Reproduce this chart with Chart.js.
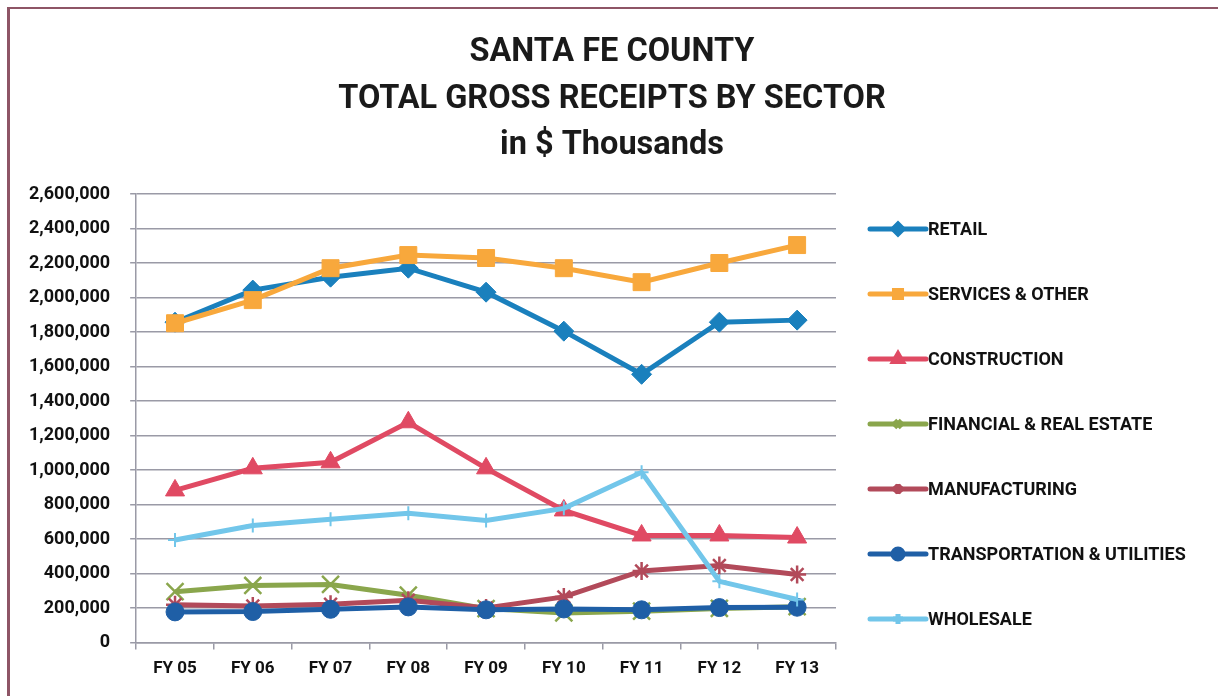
<!DOCTYPE html>
<html>
<head>
<meta charset="utf-8">
<script src="https://cdn.jsdelivr.net/npm/chart.js@4.4.0/dist/chart.umd.min.js"></script>
<style>
  html, body { margin: 0; padding: 0; background: #fff; overflow: hidden; }
  #wrap { position: relative; width: 1218px; height: 696px; overflow: hidden; }
  #frame { position: absolute; left: 7px; top: 7px; width: 1300px; height: 800px; border-left: 3px solid #8e5566; border-top: 2px solid #8e5566; pointer-events: none; }
</style>
</head>
<body>
<div id="wrap">
  <canvas id="chart" width="1218" height="696"></canvas>
  <div id="frame"></div>
</div>
<script>
const FONT = "'Roboto', 'Noto Sans', sans-serif";

const categories = ['FY 05', 'FY 06', 'FY 07', 'FY 08', 'FY 09', 'FY 10', 'FY 11', 'FY 12', 'FY 13'];
const titleLines = ['SANTA FE COUNTY', 'TOTAL GROSS RECEIPTS BY SECTOR', 'in $ Thousands'];

const retail        = [1857000, 2043000, 2118000, 2170000, 2031000, 1805000, 1555000, 1857000, 1869000];
const services      = [1851000, 1985000, 2170000, 2246000, 2229000, 2170000, 2089000, 2200000, 2304000];
const construction  = [882000, 1010000, 1045000, 1277000, 1010000, 766000, 621000, 621000, 609000];
const financial     = [295000, 331000, 337000, 275000, 197000, 172000, 182000, 198000, 208000];
const manufacturing = [220000, 212000, 222000, 245000, 200000, 265000, 415000, 447000, 395000];
const transport     = [178000, 180000, 193000, 207000, 190000, 195000, 190000, 203000, 205000];
const wholesale     = [595000, 679000, 715000, 749000, 708000, 778000, 987000, 355000, 250000];

const yMin = 0, yMax = 2600000, yStep = 200000;

function series(label, data, color, style, radius, order, extra) {
  return Object.assign({
    label, data, order,
    borderColor: color,
    backgroundColor: color,
    borderWidth: 5,
    tension: 0,
    pointStyle: style,
    pointRadius: radius,
    pointHoverRadius: radius,
    pointBackgroundColor: color,
    pointBorderColor: color,
    pointBorderWidth: 1
  }, extra || {});
}

// title centred on the whole canvas (the built-in one centres on the plot+axis box)
const pageTitle = {
  id: 'pageTitle',
  afterDraw(chart) {
    const ctx = chart.ctx;
    ctx.save();
    ctx.fillStyle = '#1a1a1a';
    ctx.font = 'bold 32.5px ' + FONT;
    ctx.textAlign = 'center';
    ctx.textBaseline = 'middle';
    titleLines.forEach((t, i) => ctx.fillText(t, 612, 53 + i * 46.5));
    ctx.restore();
  }
};

// legend drawn by hand: line + marker + bold label, to the right of the plot
const sideLegend = {
  id: 'sideLegend',
  afterDraw(chart) {
    const ctx = chart.ctx;
    const { right } = chart.chartArea;
    const x0 = right + 34, len = 56;
    ctx.save();
    chart.data.datasets.forEach((ds, i) => {
      const y = 229 + i * 65;
      ctx.strokeStyle = ds.borderColor;
      ctx.lineWidth = 5;
      ctx.lineCap = 'round';
      ctx.beginPath();
      ctx.moveTo(x0, y);
      ctx.lineTo(x0 + len, y);
      ctx.stroke();
      ctx.lineCap = 'butt';
      ctx.fillStyle = ds.borderColor;
      ctx.strokeStyle = ds.borderColor;
      if (Chart.helpers && Chart.helpers.drawPoint) {
        Chart.helpers.drawPoint(ctx, { pointStyle: ds.pointStyle, radius: 5, rotation: 0, borderWidth: 2 }, x0 + len / 2, y);
      }
      ctx.fillStyle = '#111';
      ctx.font = 'bold 18px ' + FONT;
      ctx.textBaseline = 'middle';
      ctx.textAlign = 'left';
      ctx.fillText(ds.label, x0 + len + 2, y + 1);
    });
    ctx.restore();
  }
};

new Chart(document.getElementById('chart'), {
  type: 'line',
  plugins: [pageTitle, sideLegend],
  data: {
    labels: categories,
    datasets: [
      series('RETAIL', retail, '#1a80bd', 'rectRot', 10, 6),
      series('SERVICES & OTHER', services, '#f8a83c', 'rect', 12, 5),
      series('CONSTRUCTION', construction, '#e04a63', 'triangle', 11, 4),
      series('FINANCIAL & REAL ESTATE', financial, '#8aa64c', 'crossRot', 12, 3, { pointBorderWidth: 2.5 }),
      series('MANUFACTURING', manufacturing, '#b24a5a', 'star', 9, 2, { pointBorderWidth: 2.5 }),
      series('TRANSPORTATION & UTILITIES', transport, '#1f5fa6', 'circle', 9, 1),
      series('WHOLESALE', wholesale, '#72c6ea', 'cross', 7, 0, { pointBorderWidth: 2 })
    ]
  },
  options: {
    responsive: false,
    animation: false,
    layout: { padding: { left: 9, right: 382, top: 194, bottom: 8 } },
    plugins: {
      legend: { display: false },
      tooltip: { enabled: false },
      title: { display: false }
    },
    scales: {
      x: {
        offset: true,
        grid: { offset: true, drawOnChartArea: false, drawTicks: true, tickLength: 7, color: '#9a9aa6', lineWidth: 1.5 },
        border: { display: true, color: '#9a9aa6', width: 1.5 },
        ticks: { color: '#111', padding: 9, font: { family: FONT, size: 17, weight: 'bold' } }
      },
      y: {
        min: yMin, max: yMax,
        grid: { color: '#9a9aa6', lineWidth: 1.5, tickLength: 6 },
        border: { display: true, color: '#9a9aa6', width: 1.5 },
        ticks: {
          stepSize: yStep,
          color: '#111',
          padding: 20,
          font: { family: FONT, size: 18, weight: 'bold' },
          callback: v => v.toLocaleString('en-US')
        }
      }
    }
  }
});
</script>
</body>
</html>
